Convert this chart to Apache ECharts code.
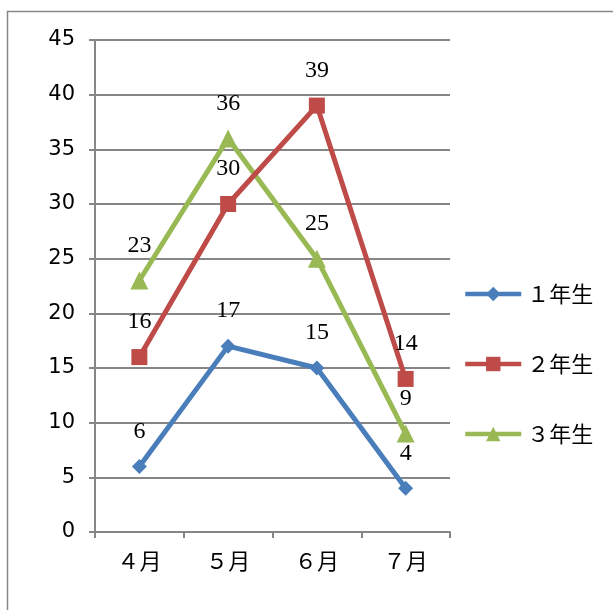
<!DOCTYPE html>
<html><head><meta charset="utf-8">
<script src="https://cdn.jsdelivr.net/npm/echarts@6/dist/echarts.min.js"></script>
<style>html,body{margin:0;padding:0;background:#fff}#c{width:613px;height:610px}</style>
</head><body><div id="c"></div>
<script>
const categories = ['４月', '５月', '６月', '７月'];
const seriesNames = ['１年生', '２年生', '３年生'];
const grade1 = [6, 17, 15, 4];
const grade2 = [16, 30, 39, 14];
const grade3 = [23, 36, 25, 9];
const yTicks = [0, 5, 10, 15, 20, 25, 30, 35, 40, 45];

const colors = ['#4a7ebb', '#be4b48', '#98b954'];
const symbols = ['diamond', 'rect', 'triangle'];
const symbolSizes = [15, 16, 18];
const data = [grade1, grade2, grade3];

const chart = echarts.init(document.getElementById('c'));
const labelStyle = {
  show: true, position: 'inside', offset: [0, -35],
  fontFamily: '"Liberation Serif", "DejaVu Serif", serif', fontSize: 24, color: '#000'
};
chart.setOption({
  animation: false,
  graphic: [{
    type: 'rect', shape: { x: 7.5, y: 11.5, width: 640, height: 640 },
    style: { fill: 'none', stroke: '#868686', lineWidth: 1.5 }, z: -1
  }],
  grid: { left: 95, right: 163, top: 40, bottom: 78 },
  legend: {
    orient: 'vertical', left: 463, top: 283, padding: 0, itemGap: 48,
    itemWidth: 56, itemHeight: 18,
    lineStyle: { width: 4.5 },
    textStyle: { fontFamily: '"Noto Sans CJK JP", sans-serif', fontSize: 22, color: '#000', padding: [0, 0, 0, 1] },
    data: seriesNames
  },
  xAxis: {
    type: 'category', data: categories, boundaryGap: true,
    axisLine: { lineStyle: { color: '#868686', width: 2 } },
    axisTick: { show: true, length: 6, lineStyle: { color: '#868686', width: 2 } },
    axisLabel: { margin: 18, fontFamily: '"Noto Sans CJK JP", sans-serif', fontSize: 22, color: '#000' }
  },
  yAxis: {
    type: 'value', min: 0, max: 45, interval: 5,
    axisLine: { show: true, lineStyle: { color: '#868686', width: 2 } },
    axisTick: { show: true, length: 6, lineStyle: { color: '#868686', width: 2 } },
    splitLine: { lineStyle: { color: '#868686', width: 2 } },
    axisLabel: {
      margin: 20, fontFamily: '"DejaVu Sans", sans-serif', fontSize: 21, color: '#000',
      formatter: v => yTicks.includes(v) ? String(v) : ''
    }
  },
  series: seriesNames.map((n, i) => ({
    name: n, type: 'line', data: data[i],
    symbol: symbols[i], symbolSize: symbolSizes[i], showAllSymbol: true,
    itemStyle: { color: colors[i] },
    lineStyle: { color: colors[i], width: 5 },
    label: labelStyle, z: 3 - i
  }))
});
</script></body></html>
